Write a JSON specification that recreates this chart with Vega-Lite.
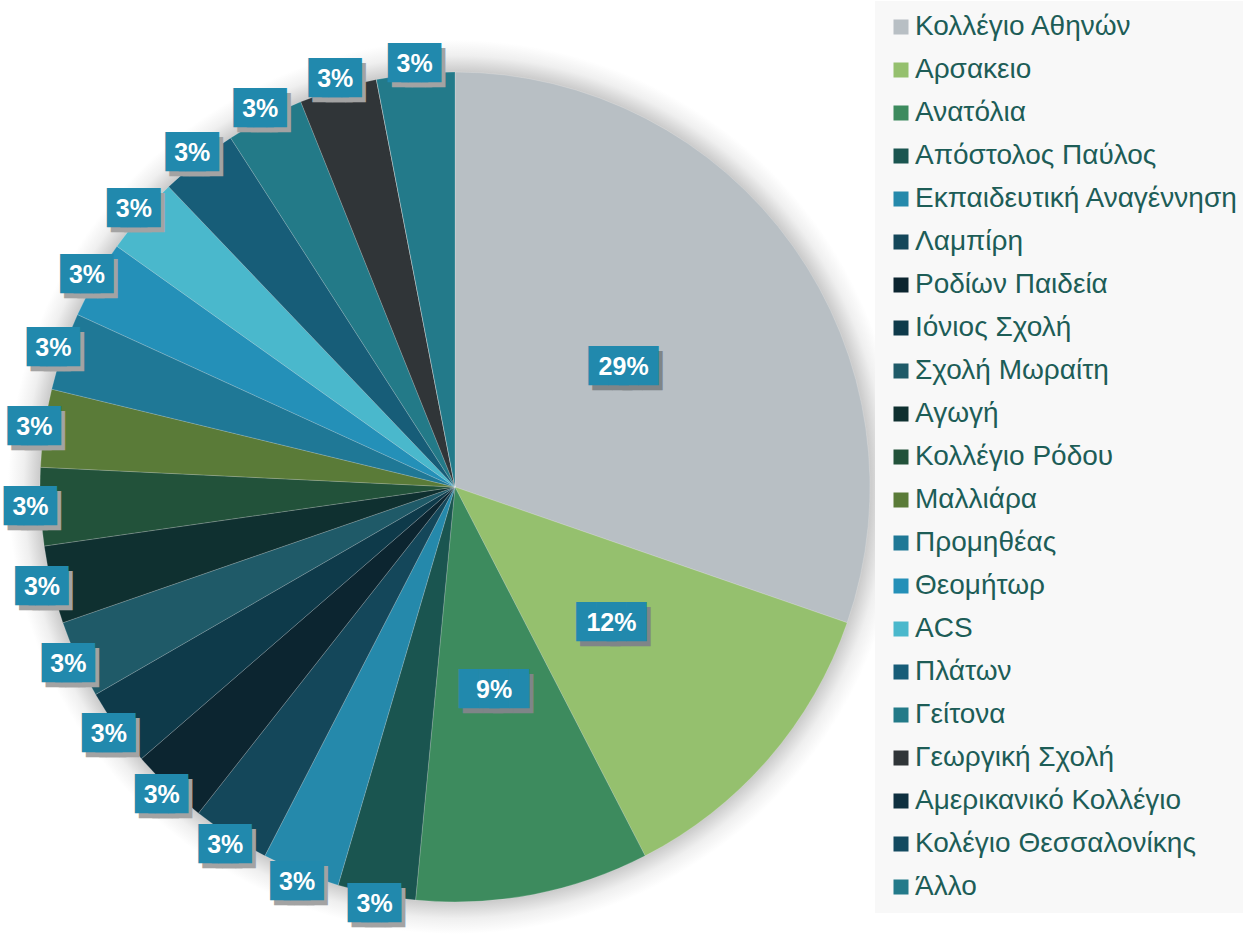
{
  "$schema": "https://vega.github.io/schema/vega-lite/v6.json",
  "width": 910,
  "height": 974,
  "autosize": {"type": "none"},
  "padding": {"left": 0, "top": 0, "right": 333, "bottom": 0},
  "background": "#ffffff",
  "config": {"view": {"stroke": null}, "font": "Liberation Sans"},
  "data": {
    "values": [
      {"school": "Κολλέγιο Αθηνών", "count": 10, "label": "29%", "rank": 1},
      {"school": "Αρσακειο", "count": 4, "label": "12%", "rank": 2},
      {"school": "Ανατόλια", "count": 3, "label": "9%", "rank": 3},
      {"school": "Απόστολος Παύλος", "count": 1, "label": "3%", "rank": 4},
      {"school": "Εκπαιδευτική Αναγέννηση", "count": 1, "label": "3%", "rank": 5},
      {"school": "Λαμπίρη", "count": 1, "label": "3%", "rank": 6},
      {"school": "Ροδίων Παιδεία", "count": 1, "label": "3%", "rank": 7},
      {"school": "Ιόνιος Σχολή", "count": 1, "label": "3%", "rank": 8},
      {"school": "Σχολή Μωραίτη", "count": 1, "label": "3%", "rank": 9},
      {"school": "Αγωγή", "count": 1, "label": "3%", "rank": 10},
      {"school": "Κολλέγιο Ρόδου", "count": 1, "label": "3%", "rank": 11},
      {"school": "Μαλλιάρα", "count": 1, "label": "3%", "rank": 12},
      {"school": "Προμηθέας", "count": 1, "label": "3%", "rank": 13},
      {"school": "Θεομήτωρ", "count": 1, "label": "3%", "rank": 14},
      {"school": "ACS", "count": 1, "label": "3%", "rank": 15},
      {"school": "Πλάτων", "count": 1, "label": "3%", "rank": 16},
      {"school": "Γείτονα", "count": 1, "label": "3%", "rank": 17},
      {"school": "Γεωργική Σχολή", "count": 1, "label": "3%", "rank": 18},
      {"school": "Αμερικανικό Κολλέγιο", "count": 0, "label": "", "rank": 19},
      {"school": "Κολέγιο Θεσσαλονίκης", "count": 0, "label": "", "rank": 20},
      {"school": "Άλλο", "count": 1, "label": "3%", "rank": 21}
    ]
  },
  "layer": [
    {
      "data": {"values": [{"r": 1}]},
      "mark": {
        "type": "arc",
        "outerRadius": 447,
        "innerRadius": 0,
        "theta": 0,
        "theta2": 6.2832,
        "fill": {
          "gradient": "radial",
          "x1": 0.5, "y1": 0.5, "r1": 0,
          "x2": 0.5, "y2": 0.5, "r2": 0.5,
          "stops": [
            {"offset": 0.9, "color": "#b9b9b9"},
            {"offset": 0.93, "color": "#cccccc"},
            {"offset": 0.965, "color": "#efefef"},
            {"offset": 1, "color": "#ffffff"}
          ]
        }
      },
      "encoding": {}
    },
    {
      "encoding": {
        "theta": {"field": "count", "type": "quantitative", "stack": true},
        "order": {"field": "rank", "type": "quantitative"}
      },
      "layer": [
        {
          "mark": {"type": "arc", "outerRadius": 415, "stroke": "#ffffff", "strokeWidth": 0.6, "strokeOpacity": 0.3},
          "encoding": {
            "color": {
              "field": "school",
              "type": "nominal",
              "scale": {
                "domain": ["Κολλέγιο Αθηνών", "Αρσακειο", "Ανατόλια", "Απόστολος Παύλος", "Εκπαιδευτική Αναγέννηση", "Λαμπίρη", "Ροδίων Παιδεία", "Ιόνιος Σχολή", "Σχολή Μωραίτη", "Αγωγή", "Κολλέγιο Ρόδου", "Μαλλιάρα", "Προμηθέας", "Θεομήτωρ", "ACS", "Πλάτων", "Γείτονα", "Γεωργική Σχολή", "Αμερικανικό Κολλέγιο", "Κολέγιο Θεσσαλονίκης", "Άλλο"],
                "range": ["#b8bfc4", "#95c06e", "#3d8b5e", "#1a5550", "#2589ab", "#14475a", "#0c2530", "#0e3a4a", "#1f5a68", "#0f3030", "#22523a", "#5a7b38", "#1f7896", "#2490b8", "#4ab8cc", "#175d78", "#237a88", "#303538", "#0f3040", "#134a60", "#237a8a"]
              },
              "legend": {
                "title": null,
                "orient": "none",
                "legendX": 875,
                "legendY": 1,
                "fillColor": "#f8f8f8",
                "padding": 12,
                "symbolType": "square",
                "symbolSize": 225,
                "symbolStrokeWidth": 0,
                "labelFont": "Liberation Sans",
                "labelFontSize": 28,
                "labelColor": "#1d5d57",
                "labelOffset": 0,
                "labelLimit": 500,
                "rowPadding": 15
              }
            }
          }
        },
        {
          "mark": {"type": "text", "radius": 425, "font": "DejaVu Sans Mono", "fontSize": 33, "align": "center", "baseline": "middle", "dx": -2.6, "dy": 5, "fill": "#a3a3a3"},
          "encoding": {"text": {"condition": {"test": "datum.count === 1", "value": "██"}, "value": ""}}
        },
        {
          "mark": {"type": "text", "radius": 425, "font": "DejaVu Sans Mono", "fontSize": 33, "align": "center", "baseline": "middle", "dx": 10.6, "dy": 5, "fill": "#a3a3a3"},
          "encoding": {"text": {"condition": {"test": "datum.count === 1", "value": "██"}, "value": ""}}
        },
        {
          "mark": {"type": "text", "radius": 207, "font": "DejaVu Sans Mono", "fontSize": 33, "align": "center", "baseline": "middle", "dx": -11, "dy": 5, "fill": "#7f8588"},
          "encoding": {"text": {"condition": {"test": "datum.count > 1", "value": "██"}, "value": ""}}
        },
        {
          "mark": {"type": "text", "radius": 207, "font": "DejaVu Sans Mono", "fontSize": 33, "align": "center", "baseline": "middle", "dx": 19, "dy": 5, "fill": "#7f8588"},
          "encoding": {"text": {"condition": {"test": "datum.count > 1", "value": "██"}, "value": ""}}
        },
        {
          "mark": {"type": "text", "radius": 425, "font": "DejaVu Sans Mono", "fontSize": 33, "align": "center", "baseline": "middle", "dx": -6.6, "fill": "#2189ad"},
          "encoding": {"text": {"condition": {"test": "datum.count === 1", "value": "██"}, "value": ""}}
        },
        {
          "mark": {"type": "text", "radius": 425, "font": "DejaVu Sans Mono", "fontSize": 33, "align": "center", "baseline": "middle", "dx": 6.6, "fill": "#2189ad"},
          "encoding": {"text": {"condition": {"test": "datum.count === 1", "value": "██"}, "value": ""}}
        },
        {
          "mark": {"type": "text", "radius": 207, "font": "DejaVu Sans Mono", "fontSize": 33, "align": "center", "baseline": "middle", "dx": -15, "fill": "#2189ad"},
          "encoding": {"text": {"condition": {"test": "datum.count > 1", "value": "██"}, "value": ""}}
        },
        {
          "mark": {"type": "text", "radius": 207, "font": "DejaVu Sans Mono", "fontSize": 33, "align": "center", "baseline": "middle", "dx": 15, "fill": "#2189ad"},
          "encoding": {"text": {"condition": {"test": "datum.count > 1", "value": "██"}, "value": ""}}
        },
        {
          "mark": {"type": "text", "radius": 425, "font": "Liberation Sans", "fontSize": 25, "fontWeight": "bold", "align": "center", "baseline": "middle", "fill": "#ffffff"},
          "encoding": {"text": {"condition": {"test": "datum.count === 1", "field": "label"}, "value": ""}}
        },
        {
          "mark": {"type": "text", "radius": 207, "font": "Liberation Sans", "fontSize": 25, "fontWeight": "bold", "align": "center", "baseline": "middle", "fill": "#ffffff"},
          "encoding": {"text": {"condition": {"test": "datum.count > 1", "field": "label"}, "value": ""}}
        }
      ]
    }
  ]
}
